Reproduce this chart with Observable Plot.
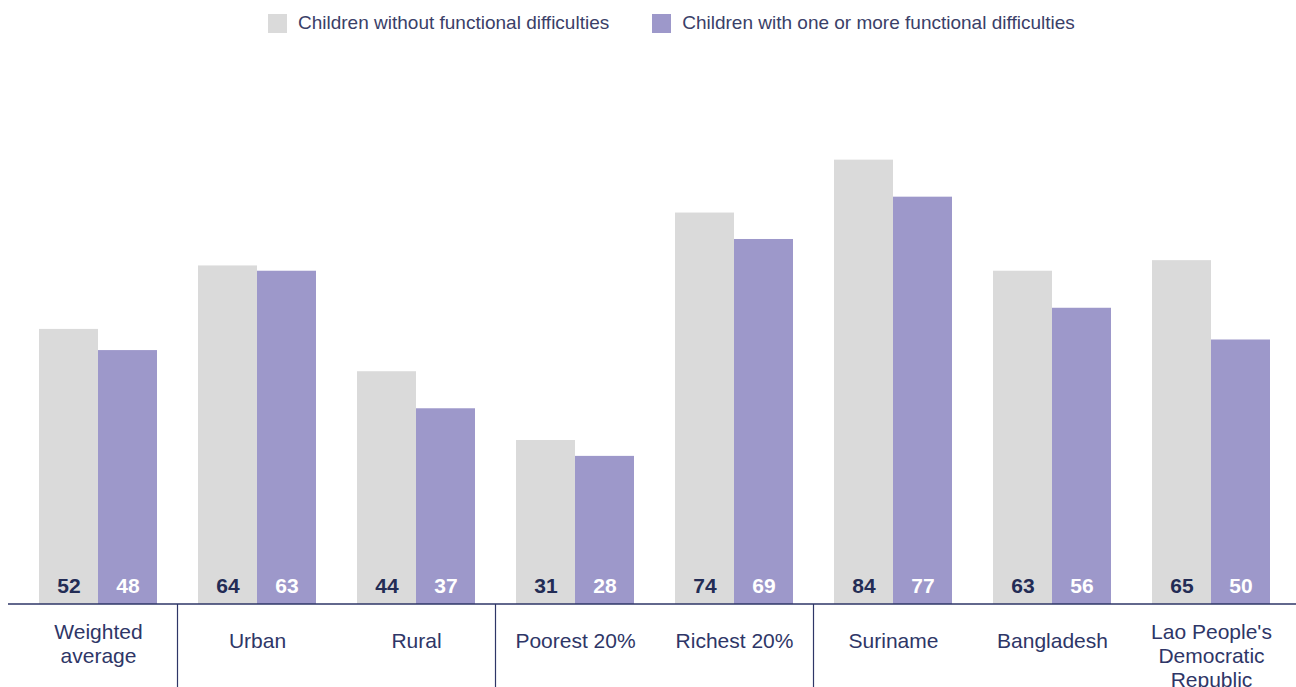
<!DOCTYPE html>
<html>
<head>
<meta charset="utf-8">
<script src="https://cdn.jsdelivr.net/npm/d3@7"></script>
<script src="https://cdn.jsdelivr.net/npm/@observablehq/plot@0.6"></script>
<style>
  body { margin: 0; background: #ffffff; font-family: "Liberation Sans", Arial, sans-serif; }
  #legend { height: 46px; display: flex; align-items: center; padding-left: 268px; box-sizing: border-box; font-size: 19px; color: #3a4068; }
  .item { display: flex; align-items: center; margin-right: 43px; }
  .sw { width: 19px; height: 19px; margin-right: 11px; }
  svg { display: block; }
</style>
</head>
<body>
<div id="legend"></div>
<div id="chart"></div>
<script>
// ---- data ----
const groups = ["Weighted average", "Urban", "Rural", "Poorest 20%", "Richest 20%", "Suriname", "Bangladesh", "Lao People's Democratic Republic"];
const groupLabels = ["Weighted\naverage", "Urban", "Rural", "Poorest 20%", "Richest 20%", "Suriname", "Bangladesh", "Lao People's\nDemocratic\nRepublic"];
const seriesNames = ["Children without functional difficulties", "Children with one or more functional difficulties"];
const withoutDifficulties = [52, 64, 44, 31, 74, 84, 63, 65];
const withDifficulties = [48, 63, 37, 28, 69, 77, 56, 50];
const separatorBefore = ["Urban", "Poorest 20%", "Suriname"];

// ---- styles ----
const GRAY = "#dadada", PURPLE = "#9d98ca", DARK = "#232c55", NAVY = "#2e3667";
const colors = [GRAY, PURPLE];

// legend
const legend = d3.select("#legend");
seriesNames.forEach((s, i) => {
  const it = legend.append("div").attr("class", "item");
  it.append("div").attr("class", "sw").style("background", colors[i]);
  it.append("span").text(s);
});

const rows = [];
groups.forEach((g, i) => {
  rows.push({group: g, series: seriesNames[0], value: withoutDifficulties[i]});
  rows.push({group: g, series: seriesNames[1], value: withDifficulties[i]});
});
const labelRows = groups.map((g, i) => ({group: g, label: groupLabels[i], lines: groupLabels[i].split("\n").length}));

const H = 641;
const plot = Plot.plot({
  width: 1296,
  height: H,
  marginTop: 29,
  marginBottom: 83,
  marginLeft: 23,
  marginRight: 10,
  fx: {domain: groups, paddingInner: 0.259, paddingOuter: 0.1, axis: null, label: null},
  x: {domain: seriesNames, padding: 0, axis: null},
  y: {domain: [0, 100], axis: null},
  color: {domain: seriesNames, range: colors},
  style: {fontFamily: "'Liberation Sans', Arial, sans-serif", fontSize: "20px", background: "#ffffff", overflow: "visible"},
  marks: [
    Plot.barY(rows, {fx: "group", x: "series", y: "value", fill: "series"}),
    Plot.text(rows.filter(d => d.series === seriesNames[0]), {fx: "group", x: "series", text: d => String(d.value), frameAnchor: "bottom", dy: -12, fill: DARK, fontWeight: "bold", fontSize: 21}),
    Plot.text(rows.filter(d => d.series === seriesNames[1]), {fx: "group", x: "series", text: d => String(d.value), frameAnchor: "bottom", dy: -12, fill: "#ffffff", fontWeight: "bold", fontSize: 21}),
    Plot.text(labelRows.filter(d => d.lines === 1), {fx: "group", text: "label", frameAnchor: "bottom", dy: 43, fill: NAVY, fontSize: 21}),
    Plot.text(labelRows.filter(d => d.lines > 1), {fx: "group", text: "label", frameAnchor: "bottom", lineAnchor: "top", dy: 17, lineHeight: 1.15, fill: NAVY, fontSize: 21})
  ]
});
document.getElementById("chart").appendChild(plot);

// baseline and group separators, positioned with Plot's own scales
const svg = d3.select(plot);
const fxS = plot.scale("fx");
const yS = plot.scale("y");
const y0 = yS.apply(0);
const gap = fxS.step - fxS.bandwidth;
separatorBefore.forEach(g => {
  const x = fxS.apply(g) - gap / 2;
  svg.append("line").attr("x1", x).attr("x2", x).attr("y1", y0).attr("y2", H)
    .attr("stroke", NAVY).attr("stroke-width", 1.2);
});
svg.append("line").attr("x1", 8).attr("x2", 1296).attr("y1", y0).attr("y2", y0)
  .attr("stroke", NAVY).attr("stroke-width", 1.5);
</script>
</body>
</html>
